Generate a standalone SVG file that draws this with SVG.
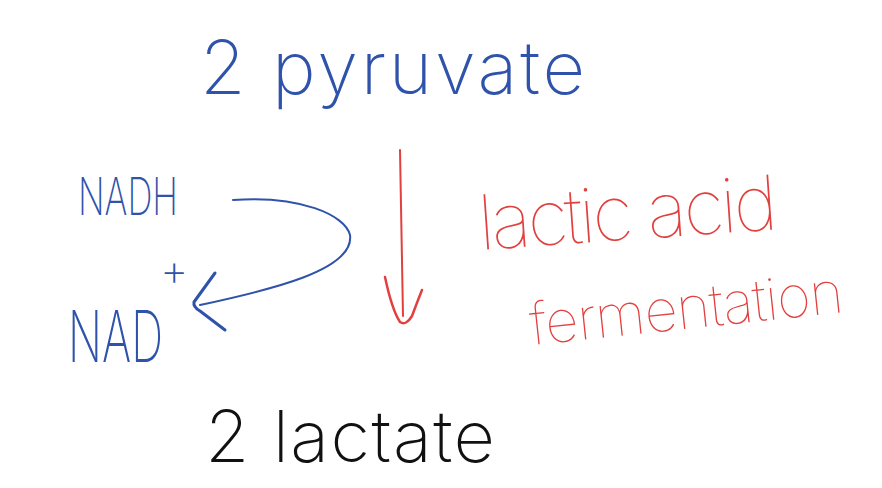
<svg xmlns="http://www.w3.org/2000/svg" width="882" height="488" viewBox="0 0 882 488">
<style>
.t{font-family:Inter,"Open Sans","Liberation Sans",sans-serif;font-weight:200}
.b{fill:#2f52aa}
.r{fill:#e2403e;font-weight:100}
.k{fill:#111}
.ln{fill:none;stroke-linecap:round;stroke-linejoin:round}
</style>
<rect width="882" height="488" fill="#fff"/>
<g id="pyruvate"><text class="t b" x="200" y="94" font-size="74" textLength="385" lengthAdjust="spacing">2 pyruvate</text></g>
<g id="nadh"><text class="t b" x="78" y="215" font-size="52" textLength="100" lengthAdjust="spacingAndGlyphs">NADH</text></g>
<g id="nadplus"><text class="t b" x="68" y="362" font-size="72" textLength="95" lengthAdjust="spacingAndGlyphs">NAD</text><text class="t b" x="160" y="286" font-size="44">+</text></g>
<g id="fermentation-label"><text class="t r" x="480" y="250" font-size="76" textLength="300" lengthAdjust="spacing" transform="rotate(-4 480 250)">lactic acid</text><text class="t r" x="532" y="345" font-size="58" textLength="315" lengthAdjust="spacing" transform="rotate(-6 532 345)">fermentation</text></g>
<g id="lactate"><text class="t k" x="205" y="462" font-size="72" textLength="290" lengthAdjust="spacing">2 lactate</text></g>
<g id="connectors">
<path class="ln" stroke="#2f52aa" stroke-width="2" d="M233 200 C300 195 345 215 350 235 C355 270 270 290 200 305"/>
<path class="ln" stroke="#2f52aa" stroke-width="3" d="M215 273 L194 302 Q193 307 200 311 L225 330"/>
<path class="ln" stroke="#e2403e" stroke-width="2" d="M400 150 L403 316"/>
<path class="ln" stroke="#e2403e" stroke-width="2.5" d="M385 277 Q392 310 400 322 Q406 326 412 316 Q418 300 422 290"/>
</g>
</svg>
